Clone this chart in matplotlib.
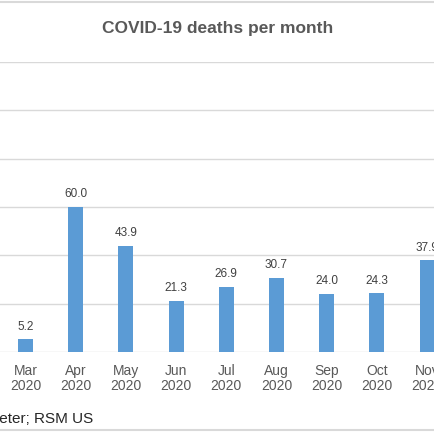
import matplotlib
matplotlib.use('Agg')
import matplotlib.pyplot as plt

months = ['Mar', 'Apr', 'May', 'Jun', 'Jul', 'Aug', 'Sep', 'Oct', 'Nov']
years = ['2020'] * 9
deaths = [5.2, 60.0, 43.9, 21.3, 26.9, 30.7, 24.0, 24.3, 37.9]
yticks = [0, 20, 40, 60, 80, 100, 120]

plt.rcParams['font.family'] = ['Liberation Sans', 'DejaVu Sans']

W = 435.0
fig = plt.figure(figsize=(4.35, 4.35), dpi=100)
# chart is cropped on both sides, so the axes run past the figure edges
x0 = 25.5 - 1.5 * 50.2
x1 = 25.5 + 8.5 * 50.2
ax = fig.add_axes([x0 / W, 82 / W, (x1 - x0) / W, 290 / W])

xs = list(range(len(months)))
ax.bar(xs, deaths, width=0.3, color='#5B9BD5', zorder=3)
for x, v in zip(xs, deaths):
    ax.text(x, v + 3.2, '%.1f' % v, ha='center', va='bottom', fontsize=8.5, color='#404040')

ax.set_xlim(-1.5, 8.5)
ax.set_ylim(0, 120)
ax.set_yticks(yticks)
ax.yaxis.grid(True, color='#D9D9D9', linewidth=1.0)
ax.set_axisbelow(True)
ax.tick_params(axis='y', left=False, labelleft=False)
ax.set_xticks(xs)
ax.set_xticklabels([m + '\n' + y for m, y in zip(months, years)], fontsize=10,
                   color='#595959', linespacing=1.05)
ax.tick_params(axis='x', length=0, pad=8)
for s in ax.spines.values():
    s.set_visible(False)

fig.text(217.5 / W, 1 - 28 / W, 'COVID-19 deaths per month', ha='center', va='center',
         fontsize=12.5, fontweight='bold', color='#595959')
fig.text(93 / W, 1 - 419 / W, 'Source: Worldometer; RSM US', ha='right', va='center',
         fontsize=11, color='#262626')

fig.add_artist(plt.Line2D([0, 1], [1 - 3 / W, 1 - 3 / W], color='#D9D9D9', linewidth=1.5))
fig.add_artist(plt.Line2D([0, 1], [1 - 431 / W, 1 - 431 / W], color='#D9D9D9', linewidth=1.5))

fig.savefig('out.png', dpi=100)
